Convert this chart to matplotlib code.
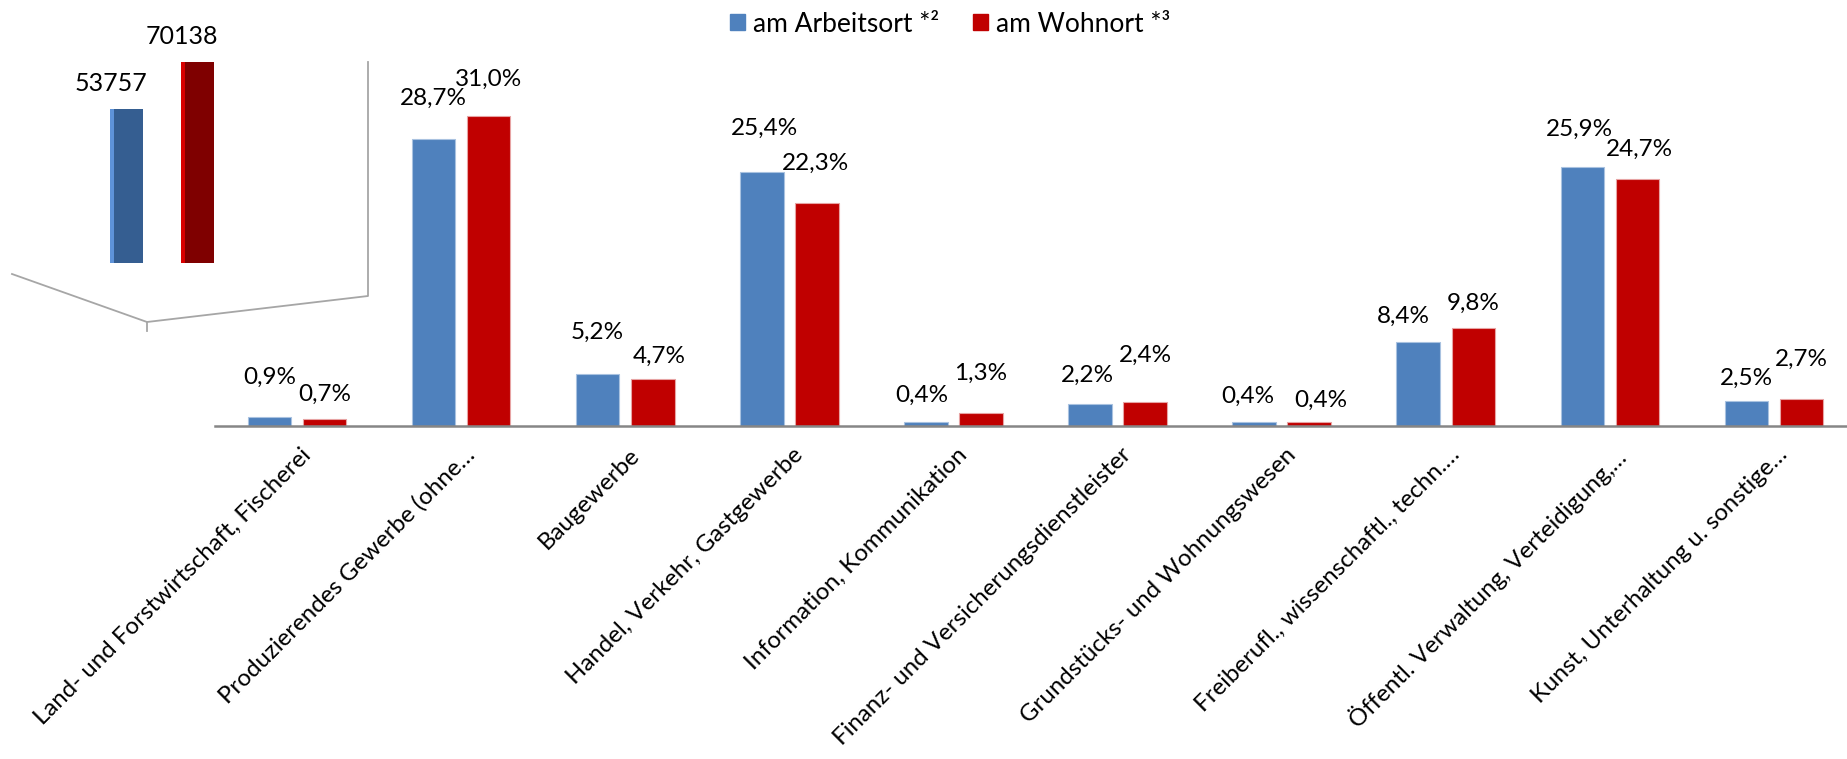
import matplotlib
matplotlib.use("Agg")
import matplotlib.pyplot as plt
import matplotlib.transforms as mtransforms
from matplotlib.lines import Line2D
from matplotlib.patches import Patch
import numpy as np

plt.rcParams['font.family'] = ['Lato', 'DejaVu Sans']

# Daten
categories = [
    "Land- und Forstwirtschaft, Fischerei",
    "Produzierendes Gewerbe (ohne…",
    "Baugewerbe",
    "Handel, Verkehr, Gastgewerbe",
    "Information, Kommunikation",
    "Finanz- und Versicherungsdienstleister",
    "Grundstücks- und Wohnungswesen",
    "Freiberufl., wissenschaftl., techn.…",
    "Öffentl. Verwaltung, Verteidigung,…",
    "Kunst, Unterhaltung u. sonstige…",
]
arbeitsort = [0.9, 28.7, 5.2, 25.4, 0.4, 2.2, 0.4, 8.4, 25.9, 2.5]
wohnort = [0.7, 31.0, 4.7, 22.3, 1.3, 2.4, 0.4, 9.8, 24.7, 2.7]
series_names = ["am Arbeitsort *²", "am Wohnort *³"]
totals = [53757, 70138]

# Beschriftungs-Verschiebung in Pixel (wie im Original von Hand verschoben)
lab_dy_blue = [41, 42, 43, 45, 28, 30, 27, 27, 39, 24]
lab_dy_red = [26, 38, 24, 41, 41, 48, 23, 26, 31, 41]
lab_dx_blue = [0, 0, 0, 3, -4, -3, -6, -15, -3, 0]
lab_dx_red = [0, 0, 6, -1, 0, 0, 12, 0, 2, 0]

BLUE = "#4F81BD"
RED = "#C00000"
W, H = 1847, 759

fig = plt.figure(figsize=(W / 100, H / 100), dpi=100)

# Hauptdiagramm
ax = fig.add_axes([215 / W, (H - 426) / H, 1641 / W, 350 / H])
x = np.arange(len(categories))
bw = 0.265
off = 0.168
ax.bar(x - off, arbeitsort, bw, color=BLUE, edgecolor="#a9c2e0", linewidth=0.8)
ax.bar(x + off, wohnort, bw, color=RED, edgecolor="#e7a3a3", linewidth=0.8)
ax.set_xlim(-0.5, len(categories) - 0.5)
ax.set_ylim(0, 35)

for i in range(len(categories)):
    ax.annotate(f"{arbeitsort[i]:.1f}%".replace(".", ","),
                (x[i] - off, arbeitsort[i]),
                xytext=(lab_dx_blue[i], lab_dy_blue[i] - 8),
                textcoords="offset pixels", ha="center", va="baseline",
                fontsize=17.5, color="black")
    ax.annotate(f"{wohnort[i]:.1f}%".replace(".", ","),
                (x[i] + off, wohnort[i]),
                xytext=(lab_dx_red[i], lab_dy_red[i] - 8),
                textcoords="offset pixels", ha="center", va="baseline",
                fontsize=17.5, color="black")

for s in ["top", "right", "left"]:
    ax.spines[s].set_visible(False)
ax.spines["bottom"].set_color("#868686")
ax.spines["bottom"].set_linewidth(1.8)
ax.set_yticks([])
ax.set_xticks(x, categories, rotation=45, ha="right", va="top",
              rotation_mode="anchor", fontsize=17.3)
ax.tick_params(axis="x", length=0, pad=13)
shift = mtransforms.ScaledTranslation(3 / 100, 0, fig.dpi_scale_trans)
for lbl in ax.get_xticklabels():
    lbl.set_transform(lbl.get_transform() + shift)

# Legende
handles = [Patch(color=BLUE), Patch(color=RED)]
fig.legend(handles, series_names, loc="center", bbox_to_anchor=(950 / W, 1 - 24 / H),
           ncol=2, frameon=False, fontsize=19, handlelength=0.55, handleheight=0.55,
           handletextpad=0.3, columnspacing=1.3)

# Kleines "3D"-Diagramm mit den Gesamtzahlen oben links
ax2 = fig.add_axes([100 / W, (H - 263) / H, 130 / W, 263 / H])
ax2.set_xlim(0, 130)
ax2.set_ylim(0, 263 / 2.87 * 1000)
ax2.axis("off")
face = ["#355E91", "#7F0000"]
side = ["#5E93D9", "#D80000"]
xpos = [10, 81]
for i in range(2):
    ax2.bar(xpos[i], totals[i], 4, color=side[i], align="edge")
    ax2.bar(xpos[i] + 4, totals[i], 29, color=face[i], align="edge")
    ax2.annotate(str(totals[i]), (xpos[i] + 16, totals[i]), xytext=(-15, 18),
                 textcoords="offset pixels", ha="center", va="baseline",
                 fontsize=18, color="black")

# Boden- und Wandlinien der 3D-Darstellung
frame_pts = [(12, 274), (147, 322), (368, 296), (368, 62)]
fx = [p[0] / W for p in frame_pts]
fy = [1 - p[1] / H for p in frame_pts]
fig.add_artist(Line2D(fx, fy, color="#a6a6a6", linewidth=1.3))
fig.add_artist(Line2D([147 / W, 147 / W], [1 - 322 / H, 1 - 331 / H],
                      color="#a6a6a6", linewidth=1.3))

fig.savefig("out.png", dpi=100)
